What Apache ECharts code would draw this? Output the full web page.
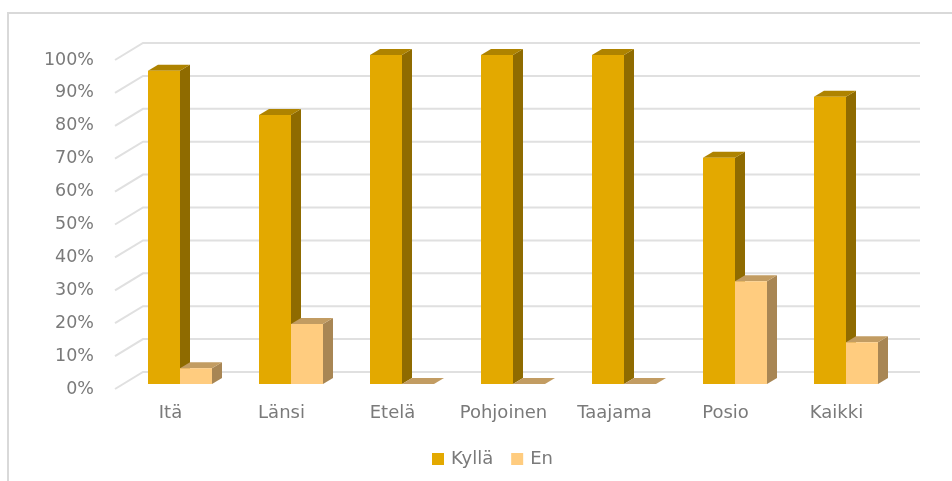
<!DOCTYPE html>
<html>
<head>
<meta charset="utf-8">
<style>html,body{margin:0;padding:0;background:#fff}#c{width:952px;height:481px;filter:blur(0.4px)}</style>
<script src="https://cdn.jsdelivr.net/npm/echarts@6/dist/echarts.min.js"></script>
</head>
<body>
<div id="c"></div>
<script>
const categories = ['Itä', 'Länsi', 'Etelä', 'Pohjoinen', 'Taajama', 'Posio', 'Kaikki'];
const kylla = [95.2, 81.8, 100, 100, 100, 68.8, 87.3];
const en = [4.8, 18.2, 0, 0, 0, 31.2, 12.7];
const yTicks = [0, 10, 20, 30, 40, 50, 60, 70, 80, 90, 100];

const BAR_W = 32, BAR_DX = 10, BAR_DY = 6, PLANE_DX = 9.5, PLANE_DY = 5;
const WALL_DX = 28, WALL_DY = 17;

function bar3d(side, front, sideC, topC) {
  return function (params, api) {
    const p = api.coord([api.value(0), api.value(1)]);
    const b = api.coord([api.value(0), 0]);
    const cx = p[0] + PLANE_DX;
    const x0 = side < 0 ? cx - BAR_W : cx;
    const x1 = x0 + BAR_W;
    const yt = p[1] - PLANE_DY, yb = b[1] - PLANE_DY;
    const children = [];
    children.push({type: 'polygon', shape: {points: [[x1, yt], [x1 + BAR_DX, yt - BAR_DY], [x1 + BAR_DX, yb - BAR_DY], [x1, yb]]}, style: {fill: sideC}});
    children.push({type: 'polygon', shape: {points: [[x0, yt], [x0 + BAR_DX, yt - BAR_DY], [x1 + BAR_DX, yt - BAR_DY], [x1, yt]]}, style: {fill: topC}});
    if (yb > yt) children.push({type: 'rect', shape: {x: x0, y: yt, width: BAR_W, height: yb - yt}, style: {fill: front}});
    return {type: 'group', children};
  };
}

const chart = echarts.init(document.getElementById('c'), null, {renderer: 'canvas'});
chart.setOption({
  animation: false,
  backgroundColor: '#ffffff',
  textStyle: {fontFamily: '"DejaVu Sans"'},
  grid: {left: 115, right: 60, top: 60, bottom: 92},
  xAxis: {
    type: 'category', data: categories,
    axisLine: {show: false}, axisTick: {show: false},
    axisLabel: {color: '#7a7a7a', fontSize: 18, margin: 15, interval: 0}
  },
  yAxis: {
    type: 'value', min: 0, max: 100, interval: 10,
    axisLine: {show: false}, axisTick: {show: false}, splitLine: {show: false},
    axisLabel: {color: '#7a7a7a', fontSize: 17.5, margin: 21, padding: [3, 0, 0, 0], formatter: '{value}%'}
  },
  legend: {
    data: ['Kyllä', 'En'], left: 432, top: 450, padding: 0, icon: 'rect',
    itemWidth: 12, itemHeight: 12, itemGap: 18,
    textStyle: {color: '#7a7a7a', fontSize: 18, padding: [0, 0, 0, 2]}
  },
  graphic: [{
    type: 'polyline', silent: true, z: -1,
    shape: {points: [[8, 481], [8, 13], [952, 13]]},
    style: {fill: null, stroke: '#d9d9d9', lineWidth: 2}
  }],
  series: [
    {
      name: 'grid', type: 'custom', silent: true, z: 1,
      data: yTicks.map(v => [0, v]),
      renderItem: function (params, api) {
        const p = api.coord([0, api.value(1)]);
        const cs = params.coordSys;
        const x0 = cs.x, y0 = p[1];
        return {type: 'polyline', shape: {points: [[x0, y0], [x0 + WALL_DX, y0 - WALL_DY], [x0 + cs.width + WALL_DX, y0 - WALL_DY]]},
          style: {fill: null, stroke: '#e0e0e0', lineWidth: 2}};
      }
    },
    {
      name: 'Kyllä', type: 'custom', z: 2, itemStyle: {color: '#E3A900'},
      data: kylla.map((v, i) => [i, v]),
      renderItem: bar3d(-1, '#E3A900', '#8F6B00', '#AE8300')
    },
    {
      name: 'En', type: 'custom', z: 3, itemStyle: {color: '#FFCC7F'},
      data: en.map((v, i) => [i, v]),
      renderItem: bar3d(1, '#FFCC7F', '#A88654', '#C29C62')
    }
  ]
});
</script>
</body>
</html>
